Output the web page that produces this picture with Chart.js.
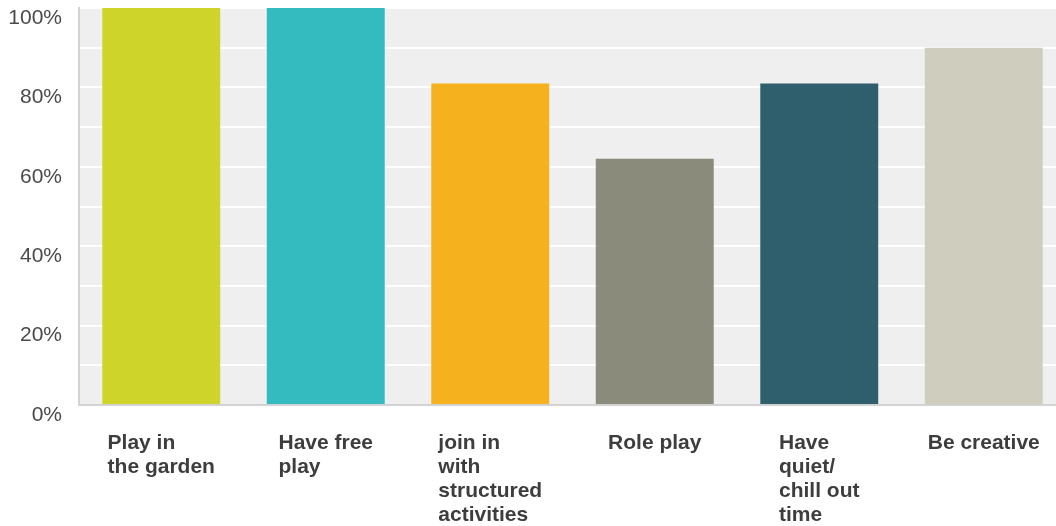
<!DOCTYPE html>
<html>
<head>
<meta charset="utf-8">
<script src="https://cdn.jsdelivr.net/npm/chart.js@4.4.1/dist/chart.umd.min.js"></script>
<style>
  html, body { margin: 0; padding: 0; background: #fff; overflow: hidden; }
  #wrap { width: 1066px; height: 526px; position: relative; }
</style>
</head>
<body>
<div id="wrap"><canvas id="chart"></canvas></div>
<script>
// categories (multi-line labels), values in percent
const categories = [
  ['Play in', 'the garden'],
  ['Have free', 'play'],
  ['join in', 'with', 'structured', 'activities'],
  ['Role play'],
  ['Have', 'quiet/', 'chill out', 'time'],
  ['Be creative']
];
const values = [100, 100, 81, 62, 81, 90];
const barColors = ['#cfd42a', '#33bbbf', '#f6b11f', '#8a8b7a', '#2f5f6c', '#cfcdbe'];
const yTickLabels = [0, 20, 40, 60, 80, 100];

const FONT = '"Liberation Sans", Arial, sans-serif';

// grey plot background behind the bars
const plotBg = {
  id: 'plotBg',
  beforeDraw(chart) {
    const { ctx, chartArea: a } = chart;
    ctx.save();
    ctx.fillStyle = '#efefef';
    ctx.fillRect(a.left, a.top, a.right - a.left, a.bottom - a.top);
    ctx.restore();
  }
};

// category labels: block centred under the bar, lines left-aligned inside it
const xLabels = {
  id: 'xLabels',
  afterDraw(chart) {
    const { ctx, chartArea, scales: { x } } = chart;
    ctx.save();
    ctx.font = 'bold 21px ' + FONT;
    ctx.fillStyle = '#3d3d3d';
    ctx.textAlign = 'left';
    ctx.textBaseline = 'middle';
    categories.forEach((lines, i) => {
      const w = Math.max(...lines.map(l => ctx.measureText(l).width));
      const left = x.getPixelForValue(i) - w / 2;
      lines.forEach((line, j) => {
        ctx.fillText(line, left, chartArea.bottom + 38 + j * 24);
      });
    });
    ctx.restore();
  }
};

new Chart(document.getElementById('chart'), {
  type: 'bar',
  data: {
    labels: categories,
    datasets: [{
      data: values,
      backgroundColor: barColors,
      borderWidth: 0,
      categoryPercentage: 1,
      barPercentage: 0.717
    }]
  },
  options: {
    responsive: true,
    maintainAspectRatio: false,
    animation: false,
    layout: { padding: { top: 8, left: 0, right: 0, bottom: 0 } },
    plugins: {
      legend: { display: false },
      tooltip: { enabled: false }
    },
    scales: {
      x: {
        grid: { display: false, drawTicks: false },
        border: { display: true, color: '#d2d2d2', width: 2 },
        ticks: { display: false },
        afterFit(scale) {
          scale.height = 121;
          scale.paddingLeft = 0;
          scale.paddingRight = 0;
        }
      },
      y: {
        min: 0,
        max: 100,
        grid: { color: '#ffffff', lineWidth: 2, drawTicks: false },
        border: { display: true, color: '#d2d2d2', width: 2 },
        ticks: {
          stepSize: 10,
          padding: 17,
          labelOffset: 10,
          color: '#4a4a4a',
          font: { family: FONT, size: 21 },
          callback: v => yTickLabels.includes(v) ? v + '%' : ''
        },
        afterFit(scale) {
          scale.width = 79;
          scale.paddingTop = 0;
          scale.paddingBottom = 0;
        }
      }
    }
  },
  plugins: [plotBg, xLabels]
});
</script>
</body>
</html>
